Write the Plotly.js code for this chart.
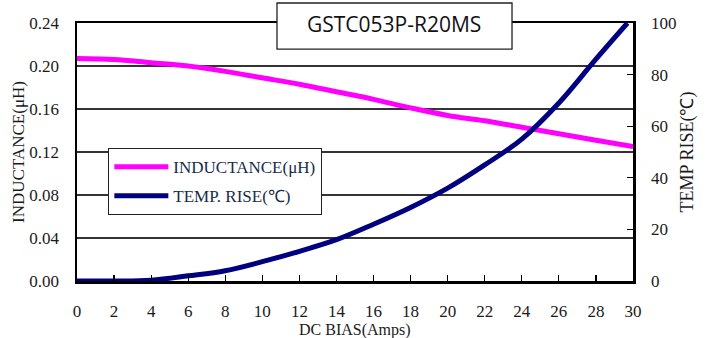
<!DOCTYPE html>
<html>
<head>
<meta charset="utf-8">
<script src="https://cdn.plot.ly/plotly-3.0.1.min.js"></script>
<style>html,body{margin:0;padding:0;background:#fff;}#chart{width:706px;height:338px;}</style>
</head>
<body>
<div id="chart"></div>
<script>
const dcBias = [0, 2, 4, 6, 8, 10, 12, 14, 16, 18, 20, 22, 24, 26, 28, 30];
const inductance = [0.207, 0.206, 0.203, 0.200, 0.195, 0.189, 0.183, 0.176, 0.169, 0.161, 0.154, 0.149, 0.143, 0.137, 0.131, 0.125];
const tempBias = [0, 2, 4, 6, 8, 10, 12, 14, 16, 18, 20, 22, 24, 26, 28, 29.7];
const tempRise = [0, 0, 0.3, 2, 4, 7.5, 11.5, 16, 22, 28.5, 36, 45, 55, 69, 86, 100];
const titleText = 'GSTC053P-R20MS';
const xTitle = 'DC BIAS(Amps)';
const inductanceName = 'INDUCTANCE(μH)';
const tempName = 'TEMP. RISE(℃)';

const serif = 'Liberation Serif, Times New Roman, serif';
const txt = '#1a1a1a';

const traces = [
  {x: dcBias, y: inductance, name: inductanceName, type: 'scatter', mode: 'lines',
   line: {color: '#ff00ff', width: 5, shape: 'spline'}, legendgroup: 'a', yaxis: 'y'},
  {x: tempBias, y: tempRise, name: tempName, type: 'scatter', mode: 'lines',
   line: {color: '#000080', width: 5, shape: 'spline'}, legendgroup: 'b', yaxis: 'y2'}
];

const layout = {
  width: 706, height: 338,
  margin: {l: 77, r: 73, t: 23, b: 57},
  paper_bgcolor: '#fff', plot_bgcolor: '#fff',
  font: {family: serif, size: 17, color: txt},
  showlegend: true,
  legend: {x: 0.056, y: 0.5155, xanchor: 'left', yanchor: 'top',
    bgcolor: '#fff', bordercolor: '#222', borderwidth: 1.2,
    font: {family: serif, size: 17, color: '#1a2a4a'},
    traceorder: 'grouped', tracegroupgap: 4, itemwidth: 54},
  xaxis: {range: [0, 30], dtick: 2, tick0: 0, showgrid: false, zeroline: false,
    showline: true, mirror: true, linecolor: '#000', linewidth: 2.5,
    ticks: 'inside', ticklen: 6, tickcolor: '#000', tickwidth: 1.2, ticklabelstandoff: 13,
    tickfont: {family: serif, size: 17, color: txt}},
  yaxis: {range: [0, 0.24], dtick: 0.04, tick0: 0, tickformat: '.2f',
    showgrid: true, gridcolor: '#333', gridwidth: 1.2, zeroline: false,
    showline: true, mirror: true, linecolor: '#000', linewidth: 2.5,
    ticks: '', ticklabelstandoff: 12,
    tickfont: {family: serif, size: 17, color: txt},
    title: {text: 'INDUCTANCE(μH)', font: {family: serif, size: 17, color: txt}, standoff: 1}},
  yaxis2: {range: [0, 100], dtick: 20, tick0: 0, overlaying: 'y', side: 'right',
    showgrid: false, zeroline: false, showline: true, linecolor: '#000', linewidth: 2.5,
    ticks: 'inside', ticklen: 6, tickcolor: '#000', tickwidth: 1.2, ticklabelstandoff: 12,
    tickfont: {family: serif, size: 17, color: txt},
    title: {text: 'TEMP RISE(℃)', font: {family: serif, size: 18, color: txt}, standoff: 5}},
  shapes: [
    {type: 'rect', xref: 'paper', yref: 'paper', x0: 0.3597, x1: 0.7824, y0: 0.899, y1: 1.0775,
     fillcolor: '#fff', line: {color: '#222', width: 1.3}, layer: 'above'}
  ],
  annotations: [
    {xref: 'paper', yref: 'paper', x: 0.571, y: 0.996, xanchor: 'center', yanchor: 'middle',
     text: titleText, showarrow: false,
     font: {family: 'Open Sans, sans-serif', size: 21, color: '#111'}},
    {xref: 'paper', yref: 'paper', x: 0.5, y: -0.19, xanchor: 'center', yanchor: 'middle',
     text: xTitle, showarrow: false,
     font: {family: serif, size: 16, color: txt}}
  ]
};

Plotly.newPlot('chart', traces, layout, {displayModeBar: false, staticPlot: true});
</script>
</body>
</html>
